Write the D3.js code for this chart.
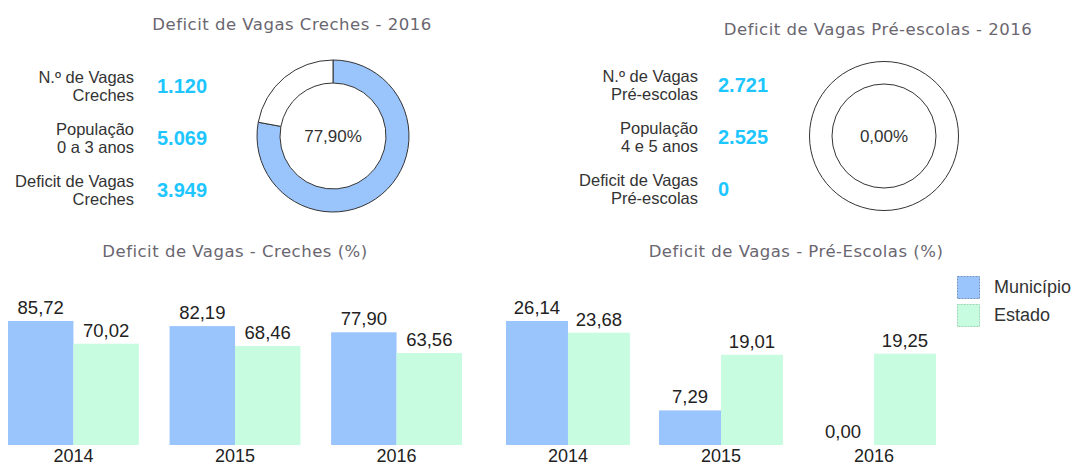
<!DOCTYPE html>
<html>
<head>
<meta charset="utf-8">
<script src="https://cdn.jsdelivr.net/npm/d3@7"></script>
<style>
  body { margin: 0; background: #fff; }
  .titulo { font-family: "DejaVu Sans", sans-serif; font-size: 16.5px; fill: #6a6670; letter-spacing: 0.5px; }
  .rotulo { font-family: "Liberation Sans", Arial, sans-serif; font-size: 16.5px; fill: #333; }
  .valor { font-family: "Liberation Sans", Arial, sans-serif; font-size: 20px; font-weight: bold; fill: #1ec6ff; }
  .barlabel { font-family: "Liberation Sans", Arial, sans-serif; font-size: 18.5px; fill: #222; }
  .eixo text { font-family: "Liberation Sans", Arial, sans-serif; font-size: 18px; fill: #222; }
  .legenda { font-family: "Liberation Sans", Arial, sans-serif; font-size: 18px; fill: #333; }
</style>
</head>
<body>
<div id="painel"></div>
<script>
// data
const anos = ["2014", "2015", "2016"];
const series = ["Município", "Estado"];
const crechesMunicipio = [85.72, 82.19, 77.90];
const crechesEstado = [70.02, 68.46, 63.56];
const preMunicipio = [26.14, 7.29, 0.00];
const preEstado = [23.68, 19.01, 19.25];

const crechesRotulos = [["N.º de Vagas", "Creches"], ["População", "0 a 3 anos"], ["Deficit de Vagas", "Creches"]];
const crechesValores = ["1.120", "5.069", "3.949"];
const crechesDeficit = 77.90;

const preRotulos = [["N.º de Vagas", "Pré-escolas"], ["População", "4 e 5 anos"], ["Deficit de Vagas", "Pré-escolas"]];
const preValores = ["2.721", "2.525", "0"];
const preDeficit = 0.00;

const cores = ["#99c4fc", "#c8fce0"];
const bordas = ["#6f8fbf", "#9ad6b0"];

const ptBR = d3.formatLocale({decimal: ",", thousands: ".", grouping: [3], currency: ["R$", ""]});
const fmt2 = ptBR.format(".2f");

let width = 1078, height = 467;

let svg = d3.select("#painel")
    .append("svg")
    .attr("width", width)
    .attr("height", height);

// resumo + donut
function resumo(opts) {
    let g = svg.append("g");

    g.append("text")
        .attr("class", "titulo")
        .attr("x", opts.tituloX)
        .attr("y", opts.tituloY)
        .attr("text-anchor", "middle")
        .text(opts.titulo);

    opts.rotulos.forEach(function(linhas, i) {
        let t = g.append("text")
            .attr("class", "rotulo")
            .attr("text-anchor", "end");
        linhas.forEach(function(l, j) {
            t.append("tspan")
                .attr("x", opts.rotuloX)
                .attr("y", opts.y0 + i * 52 + j * 18)
                .text(l);
        });
        g.append("text")
            .attr("class", "valor")
            .attr("x", opts.valorX)
            .attr("y", opts.y0 + 10 + i * 52)
            .text(opts.valores[i]);
    });

    let pie = d3.pie().sort(null)(
        [opts.pct, 100 - opts.pct]);

    let arc = d3.arc().innerRadius(opts.r0).outerRadius(opts.r1);

    let donut = g.append("g")
        .attr("transform", "translate(" + opts.cx + "," + opts.cy + ")");

    donut.selectAll("path")
        .data(pie.filter(function(d) { return d.value > 0; }))
        .join("path")
        .attr("d", arc)
        .attr("fill", function(d) { return d.index === 0 ? cores[0] : "#fff"; })
        .attr("stroke", "#333")
        .attr("stroke-width", 1);

    donut.append("text")
        .attr("class", "rotulo")
        .attr("text-anchor", "middle")
        .attr("dy", "0.35em")
        .style("font-size", "17px")
        .text(fmt2(opts.pct) + "%");
}

resumo({
    titulo: "Deficit de Vagas Creches - 2016", tituloX: 292, tituloY: 30,
    rotulos: crechesRotulos, valores: crechesValores,
    rotuloX: 134, valorX: 157, y0: 83,
    pct: crechesDeficit, cx: 333, cy: 136, r0: 53, r1: 76
});

resumo({
    titulo: "Deficit de Vagas Pré-escolas - 2016", tituloX: 878, tituloY: 35,
    rotulos: preRotulos, valores: preValores,
    rotuloX: 698, valorX: 718, y0: 82,
    pct: preDeficit, cx: 884, cy: 136, r0: 52, r1: 74.5
});

// grouped bars
function barras(opts) {
    let g = svg.append("g");

    g.append("text")
        .attr("class", "titulo")
        .attr("x", opts.tituloX)
        .attr("y", 257)
        .attr("text-anchor", "middle")
        .text(opts.titulo);

    let dados = anos.map(function(a, i) {
        return {ano: a, valores: [opts.mun[i], opts.est[i]]};
    });

    let x0 = d3.scaleBand()
        .domain(anos)
        .range(opts.range)
        .paddingInner(0.19);

    let x1 = d3.scaleBand()
        .domain([0, 1])
        .range([0, x0.bandwidth()]);

    let y = d3.scaleLinear()
        .domain([0, d3.max(opts.mun.concat(opts.est))])
        .range([445, 321]);

    let grupos = g.selectAll(".grupo")
        .data(dados)
        .join("g")
        .attr("class", "grupo")
        .attr("transform", function(d) { return "translate(" + x0(d.ano) + ",0)"; });

    grupos.selectAll("rect")
        .data(function(d) { return d.valores; })
        .join("rect")
        .attr("x", function(d, i) { return x1(i); })
        .attr("y", function(d) { return y(d); })
        .attr("width", x1.bandwidth())
        .attr("height", function(d) { return y(0) - y(d); })
        .attr("fill", function(d, i) { return cores[i]; });

    grupos.selectAll(".barlabel")
        .data(function(d) { return d.valores; })
        .join("text")
        .attr("class", "barlabel")
        .attr("x", function(d, i) { return x1(i) + x1.bandwidth() / 2; })
        .attr("y", function(d) { return y(d) - 7; })
        .attr("text-anchor", "middle")
        .text(function(d) { return fmt2(d); });

    // years
    let eixo = g.append("g")
        .attr("class", "eixo")
        .attr("transform", "translate(0,445)")
        .call(d3.axisBottom(x0).tickSize(0).tickPadding(0));
    eixo.select(".domain").remove();
    eixo.selectAll("text").attr("y", 0).attr("dy", "0.95em");
}

barras({
    titulo: "Deficit de Vagas - Creches (%)", tituloX: 235,
    mun: crechesMunicipio, est: crechesEstado, range: [8, 462]
});

barras({
    titulo: "Deficit de Vagas - Pré-Escolas (%)", tituloX: 796,
    mun: preMunicipio, est: preEstado, range: [506, 936]
});

// legend
let legenda = svg.append("g")
    .attr("transform", "translate(957,276)");

series.forEach(function(s, i) {
    legenda.append("rect")
        .attr("x", 0.5)
        .attr("y", i * 28 + 0.5)
        .attr("width", 22)
        .attr("height", 22)
        .attr("fill", cores[i])
        .attr("stroke", bordas[i])
        .attr("stroke-dasharray", "2,1");
    legenda.append("text")
        .attr("class", "legenda")
        .attr("x", 37)
        .attr("y", i * 28 + 17)
        .text(s);
});
</script>
</body>
</html>
